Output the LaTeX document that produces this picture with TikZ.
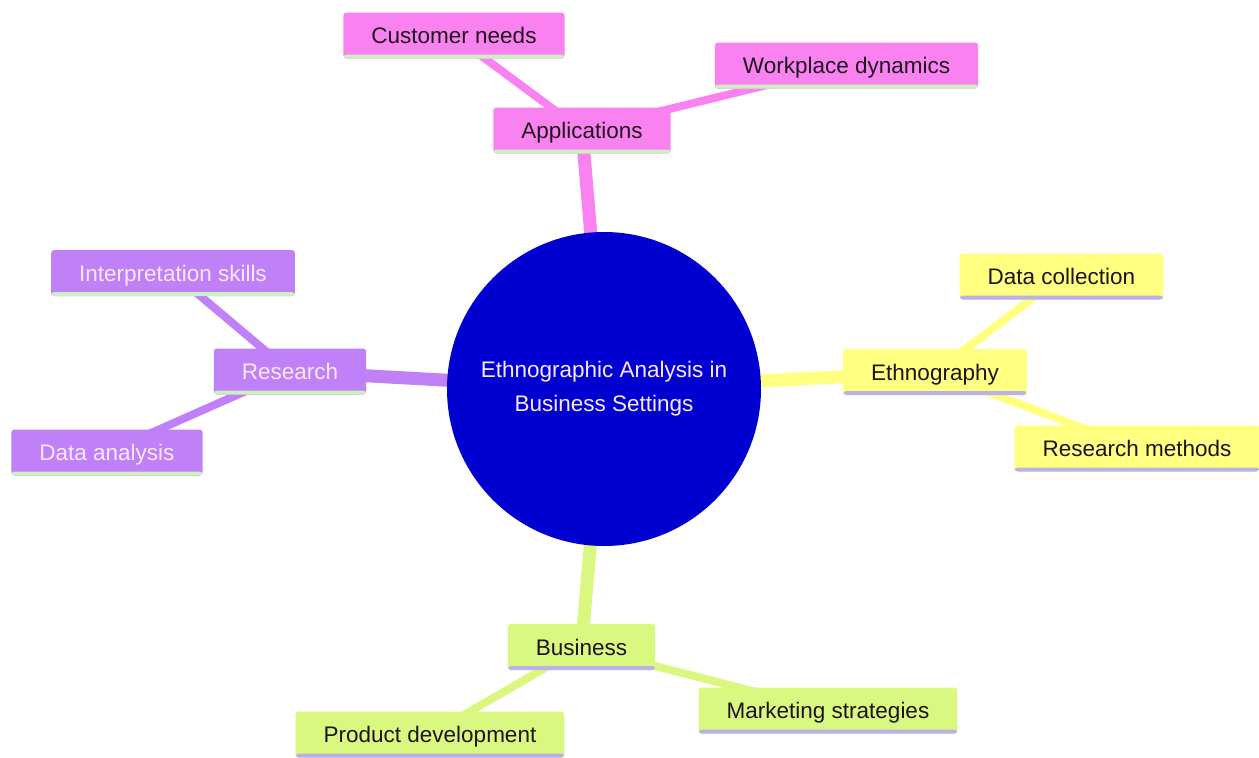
\documentclass[tikz,border=0pt]{standalone}
\usepackage{fontspec}
\setmainfont{Liberation Sans}
\usetikzlibrary{backgrounds}
\definecolor{rootblue}{RGB}{0,0,208}
\definecolor{pinkc}{RGB}{250,130,240}
\definecolor{purplec}{RGB}{192,128,248}
\definecolor{yellowc}{RGB}{255,255,128}
\definecolor{limec}{RGB}{218,248,128}
\definecolor{greenline}{RGB}{205,240,195}
\definecolor{lavline}{RGB}{185,178,232}
\definecolor{darktext}{RGB}{30,20,30}
\definecolor{lighttext}{RGB}{250,232,250}
\tikzset{
  mbox/.style={rectangle, rounded corners=3pt, minimum height=46pt, inner xsep=28pt,
    font=\fontsize{22.5}{27}\selectfont, text=darktext, text depth=0pt, text height=16pt},
  bline/.style={path picture={\fill[#1] ([yshift=0pt]path picture bounding box.south west) rectangle ([yshift=4pt]path picture bounding box.south east);}},
  pinkbox/.style={mbox, fill=pinkc, bline=greenline},
  purplebox/.style={mbox, fill=purplec, bline=greenline, text=lighttext},
  yellowbox/.style={mbox, fill=yellowc, bline=lavline},
  limebox/.style={mbox, fill=limec, bline=lavline},
  mainlink/.style={line width=13pt},
  sublink/.style={line width=8pt},
}
\begin{document}
\begin{tikzpicture}[x=1pt,y=-1pt]
\useasboundingbox (0,0) rectangle (1259,758);
\node[circle, fill=rootblue, minimum size=314pt, inner sep=0pt, align=center,
  text=lighttext, font=\fontsize{22.5}{34}\selectfont] (root) at (604,389)
  {Ethnographic Analysis in\\Business Settings};
\node[pinkbox] (app) at (582,130.5) {Applications};
\node[pinkbox] (cust) at (454,35.5) {Customer needs};
\node[pinkbox] (work) at (846.5,65.5) {Workplace dynamics};
\node[purplebox] (res) at (290,371.5) {Research};
\node[purplebox] (interp) at (173,273) {Interpretation skills};
\node[purplebox] (danal) at (107,452.5) {Data analysis};
\node[yellowbox] (eth) at (935,372) {Ethnography};
\node[yellowbox] (dcol) at (1061.5,276.5) {Data collection};
\node[yellowbox] (rmeth) at (1137,448.5) {Research methods};
\node[limebox] (bus) at (581.5,647) {Business};
\node[limebox] (prod) at (430,734.5) {Product development};
\node[limebox] (mark) at (828,710.5) {Marketing strategies};
\begin{pgfonlayer}{background}
\fill[white] (0,0) rectangle (1259,758);
\draw[pinkc, mainlink] (root.center) -- (app.center);
\draw[pinkc, sublink] (app.center) -- (cust.center);
\draw[pinkc, sublink] (app.center) -- (work.center);
\draw[purplec, mainlink] (root.center) -- (res.center);
\draw[purplec, sublink] (res.center) -- (interp.center);
\draw[purplec, sublink] (res.center) -- (danal.center);
\draw[yellowc, mainlink] (root.center) -- (eth.center);
\draw[yellowc, sublink] (eth.center) -- (dcol.center);
\draw[yellowc, sublink] (eth.center) -- (rmeth.center);
\draw[limec, mainlink] (root.center) -- (bus.center);
\draw[limec, sublink] (bus.center) -- (prod.center);
\draw[limec, sublink] (bus.center) -- (mark.center);
\end{pgfonlayer}
\end{tikzpicture}
\end{document}
